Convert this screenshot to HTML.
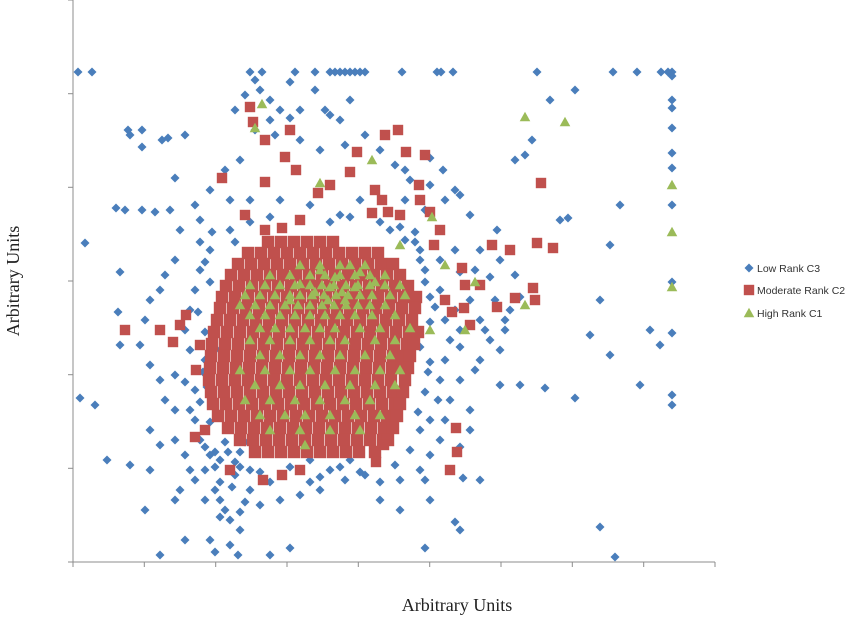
<!DOCTYPE html>
<html><head><meta charset="utf-8"><style>
html,body{margin:0;padding:0;background:#fff;width:850px;height:617px;overflow:hidden}
svg{display:block}
</style></head><body>
<svg id="chart" width="850" height="617" xmlns="http://www.w3.org/2000/svg"></svg>
<script>
// Axis domains (arbitrary units)
const xDomain=[73,715];
const yDomain=[0,562];
const xTicks=[73,144.3,215.7,287,358.3,429.7,501,572.3,643.7,715];
const yTicks=[0,93.7,187.3,281,374.7,468.3,562];
const legendLabels=["Low Rank C3","Moderate Rank C2","High Rank C1"];

// Low Rank C3 (blue)
const bluePts=[[78,490],[92,490],[250,490],[262,490],[295,490],[315,490],[330,490],[335,490],[340,490],[345,490],[350,490],[355,490],[360,490],[365,490],[402,490],[437,490],[441,490],[453,490],[537,490],[613,490],[637,490],[661,490],[668,490],
[672,490],[672,486],[672,462],[672,454],[672,434],[672,409],[672,394],[672,357],[672,280],[672,229],[672,167],[672,157],
[128,432],[130,427],[142,432],[162,422],[168,424],[185,427],[142,415],[175,384],[116,354],[125,352],[142,352],[155,350],[170,352],[85,319],[120,290],[118,250],[120,217],[95,157],[80,164],[107,102],[130,97],[150,92],[145,52],[160,7],[185,22],[210,22],[215,10],[230,17],[238,7],[270,7],[290,14],[425,14],[430,62],[455,40],[460,32],[400,52],[480,82],[463,84],[425,82],[600,35],[615,5],[575,164],[520,177],[545,174],[590,227],[610,207],[640,177],[650,232],[660,217],[600,262],[575,472],[550,462],[515,402],[525,407],[532,422],[560,342],[568,344],[620,357],[610,317],[497,332],[470,347],[455,372],[430,404],[443,392],[460,367],[500,302],[515,287],[505,242],[490,222],[500,177],[500,212],[475,192],[470,132],[460,115],[445,142],[438,162],[255,482],[260,472],[245,467],[270,462],[290,480],[300,452],[325,452],[315,472],[330,447],[340,442],[350,462],[290,444],[270,442],[275,427],[300,422],[320,412],[345,417],[365,427],[380,412],[395,397],[405,392],[410,382],[430,377],[445,362],[225,392],[240,402],[230,362],[210,372],[195,357],[200,342],[180,332],[175,302],[165,287],[160,272],[150,262],[145,242],[140,217],[150,197],[160,182],[175,187],[165,162],[175,152],[150,132],[160,117],[175,122],[185,107],[190,92],[195,82],[205,92],[215,72],[220,62],[225,52],[230,42],[240,32],[205,62],[180,72],[175,62],[250,72],[260,57],[280,62],[300,67],[320,72],[345,82],[365,87],[380,62],[400,82],[420,92],[430,107],[440,122],[450,162],[470,152],[460,182],[480,202],[485,232],[470,262],[475,292],[480,312],[455,312],[440,302],[425,352],[405,362],[390,332],[360,362],[340,347],[310,357],[280,362],[250,362],[230,332],[210,312],[200,292],[195,272],[190,252],[185,232],[190,212],[195,172],[190,152],[195,142],[200,122],[210,107],[220,102],[235,87],[250,92],[310,102],[330,92],[350,102],[395,97],[410,112],[420,132],[430,142],[440,182],[445,202],[450,222],[460,232],[455,252],[440,272],[425,292],[420,312],[405,322],[220,212],[205,202],[480,242],[495,262],[510,252],
[215,110],[225,120],[235,100],[210,140],[220,80],[240,110],[185,180],[200,160],[205,230],[210,280],[235,452],[255,432],[280,452],[420,302],[430,265],[445,242],[460,290],[490,285],[520,265],[460,215],[430,200],[505,232],
[200,320],[205,300],[198,250],[203,190],[207,175],[212,330],[240,95],[260,90],[290,95],[320,85],[340,95],[360,90],[380,80],[270,80],[310,80],[425,170],[428,190],[420,215],[430,240],[425,280],[435,255],[418,150],[415,330],[250,340],[270,345],[330,340],[350,345],[380,340],[400,335],[235,320],[415,320],[215,95],[228,110],[245,120],[205,115],[232,75],[245,60],[220,45],[240,50]];

// Moderate Rank C2 (red): dense core rows + scattered points
const redRowY=[320,309,298,287,276,265,254,242,230,218,206,194,182,170,158,146,134,122,110];
const redRowX=[
[268,281,294,307,320,333],
[248,261,274,287,300,313,326,339,352,365,378],
[238,251,264,277,290,303,316,329,342,355,368,381,393],
[231,244,257,270,283,296,309,322,335,348,361,374,387,400],
[226,239,252,265,278,291,304,317,330,343,356,369,382,395,408],
[222,235,248,261,274,287,300,313,326,339,352,365,378,391,404,416],
[220,233,246,259,272,285,298,311,324,337,350,363,376,389,402,415],
[217,230,243,256,269,282,295,308,321,334,347,360,373,386,399,412],
[214,227,240,253,266,279,292,305,318,331,344,357,370,383,396,409,418],
[212,225,238,251,264,277,290,303,316,329,342,355,368,381,394,407,414],
[211,224,237,250,263,276,289,302,315,328,341,354,367,380,393,404,410],
[210,223,236,249,262,275,288,301,314,327,340,353,366,379,392,402,408],
[209,222,235,248,261,274,287,300,313,326,339,352,365,378,391,405],
[211,224,237,250,263,276,289,302,315,328,341,354,367,380,393,403],
[213,226,239,252,265,278,291,304,317,330,343,356,369,382,395,400],
[218,231,244,257,270,283,296,309,322,335,348,361,374,387,397],
[228,241,254,267,280,293,306,319,332,345,358,371,384,393],
[240,253,266,279,292,305,318,331,344,357,370,383,388],
[255,268,281,294,307,320,333,346,359,375]];
const redPts=[[222,384],[265,380],[250,455],[253,440],[265,422],[290,432],[285,405],[296,392],[318,369],[330,377],[357,410],[350,390],[375,372],[385,427],[398,432],[406,410],[419,377],[420,362],[425,407],[440,332],[462,294],[492,317],[510,312],[537,319],[553,314],[541,379],[515,264],[533,274],[535,262],[497,255],[452,250],[125,232],[160,232],[180,237],[186,247],[173,220],[200,217],[196,192],[205,132],[195,125],[263,82],[300,92],[376,100],[384,117],[456,134],[457,110],[450,92],[230,92],[282,87],[300,342],[245,347],[265,332],[282,334],[372,349],[388,350],[382,362],[400,347],[430,350],[464,254],[470,237],[445,262],[480,277],[465,277],[434,317]];

// High Rank C1 (green): core rows + scattered points
const greenRowY=[297,287,277,267,257,247,234,222,207,192,177,162,147,132,117];
const greenRowX=[
[300,320,340,350,365],
[270,290,310,325,340,355,370,385],
[250,265,280,295,310,322,334,346,358,370,385,400],
[245,260,275,290,300,312,324,336,348,360,372,390,405],
[240,255,270,285,298,310,322,334,346,358,370,385],
[250,265,280,295,310,325,340,355,372,395],
[260,275,290,305,320,335,360,380,410],
[250,270,290,310,330,345,375,395],
[260,280,300,320,340,365,390],
[240,265,290,310,335,355,380,400],
[255,280,300,325,350,375,395],
[245,270,295,320,345,370],
[260,285,305,330,355,380],
[270,300,330,360],
[305]];
const greenPts=[[525,445],[565,440],[672,377],[672,330],[672,275],[372,402],[320,379],[432,345],[262,458],[255,434],[445,297],[475,280],[525,257],[430,232],[400,317],[465,232],
[315,270],[330,275],[345,262],[355,275],[335,285],[320,292],[360,290],[375,280],[300,278],[290,262],[342,270],[328,262]];

const NS="http://www.w3.org/2000/svg";
const svg=document.getElementById('chart');
const PX0=73,PX1=715,PY0=562,PY1=0;
function sx(v){return PX0+(v-xDomain[0])/(xDomain[1]-xDomain[0])*(PX1-PX0);}
function sy(v){return PY0-(v-yDomain[0])/(yDomain[1]-yDomain[0])*(PY0-PY1);}
function mk(tag,attrs,parent){const e=document.createElementNS(NS,tag);for(const k in attrs)e.setAttribute(k,attrs[k]);(parent||svg).appendChild(e);return e;}

// axes
const axes=mk('g',{});


const ya=mk('line',{x1:PX0,y1:0,x2:PX0,y2:PY0,stroke:'#8c8c8c','stroke-width':1},axes);


const xa=mk('line',{x1:PX0,y1:PY0,x2:PX1,y2:PY0,stroke:'#8c8c8c','stroke-width':1},axes);


yTicks.forEach(t=>{const l=mk('line',{x1:PX0-5,x2:PX0,y1:sy(t),y2:sy(t),stroke:'#8c8c8c'},axes);

});
xTicks.forEach(t=>{const l=mk('line',{x1:sx(t),x2:sx(t),y1:PY0,y2:PY0+5,stroke:'#8c8c8c'},axes);

});

function diamond(g,x,y){const s=4.5;const p=mk('polygon',{points:`${x},${y-s} ${x+s},${y} ${x},${y+s} ${x-s},${y}`,fill:'#4a7ebb'},g);

}
function square(g,x,y){const s=6.2;const r=mk('rect',{x:x-s,y:y-s,width:2*s,height:2*s,fill:'#c0504d'},g);

}
function square2(g,x,y){const s=5.2;const r=mk('rect',{x:x-s,y:y-s,width:2*s,height:2*s,fill:'#c0504d'},g);

}
function tri(g,x,y){const s=5.3;const p=mk('polygon',{points:`${x},${y-s} ${x+s},${y+s*0.8} ${x-s},${y+s*0.8}`,fill:'#9bbb59'},g);

}

const gb=mk('g',{});


bluePts.forEach(p=>diamond(gb,sx(p[0]),sy(p[1])));
const gr=mk('g',{});


redRowY.forEach((y,i)=>redRowX[i].forEach(x=>square(gr,sx(x),sy(y))));
redPts.forEach(p=>square2(gr,sx(p[0]),sy(p[1])));
const gg=mk('g',{});


greenRowY.forEach((y,i)=>greenRowX[i].forEach(x=>tri(gg,sx(x),sy(y))));
greenPts.forEach(p=>tri(gg,sx(p[0]),sy(p[1])));

// titles
const xt=mk('text',{x:457,y:611,'text-anchor':'middle','font-family':'Liberation Serif, serif','font-size':18,fill:'#222'});
xt.textContent='Arbitrary Units';


const yt=mk('text',{x:0,y:0,transform:'translate(19,281) rotate(-90)','text-anchor':'middle','font-family':'Liberation Serif, serif','font-size':18,fill:'#222'});
yt.textContent='Arbitrary Units';



// legend
const lg=mk('g',{});


const ly=[268,290,313];
legendLabels.forEach((lab,i)=>{
  const y=ly[i];
  if(i===0)diamond(lg,749,y);else if(i===1)square2(lg,749,y);else tri(lg,749,y);
  const t=mk('text',{x:757,y:y+4,'font-family':'Liberation Sans, sans-serif','font-size':10.5,fill:'#333'},lg);
  t.textContent=lab;
  
  
});
</script>
</body></html>
